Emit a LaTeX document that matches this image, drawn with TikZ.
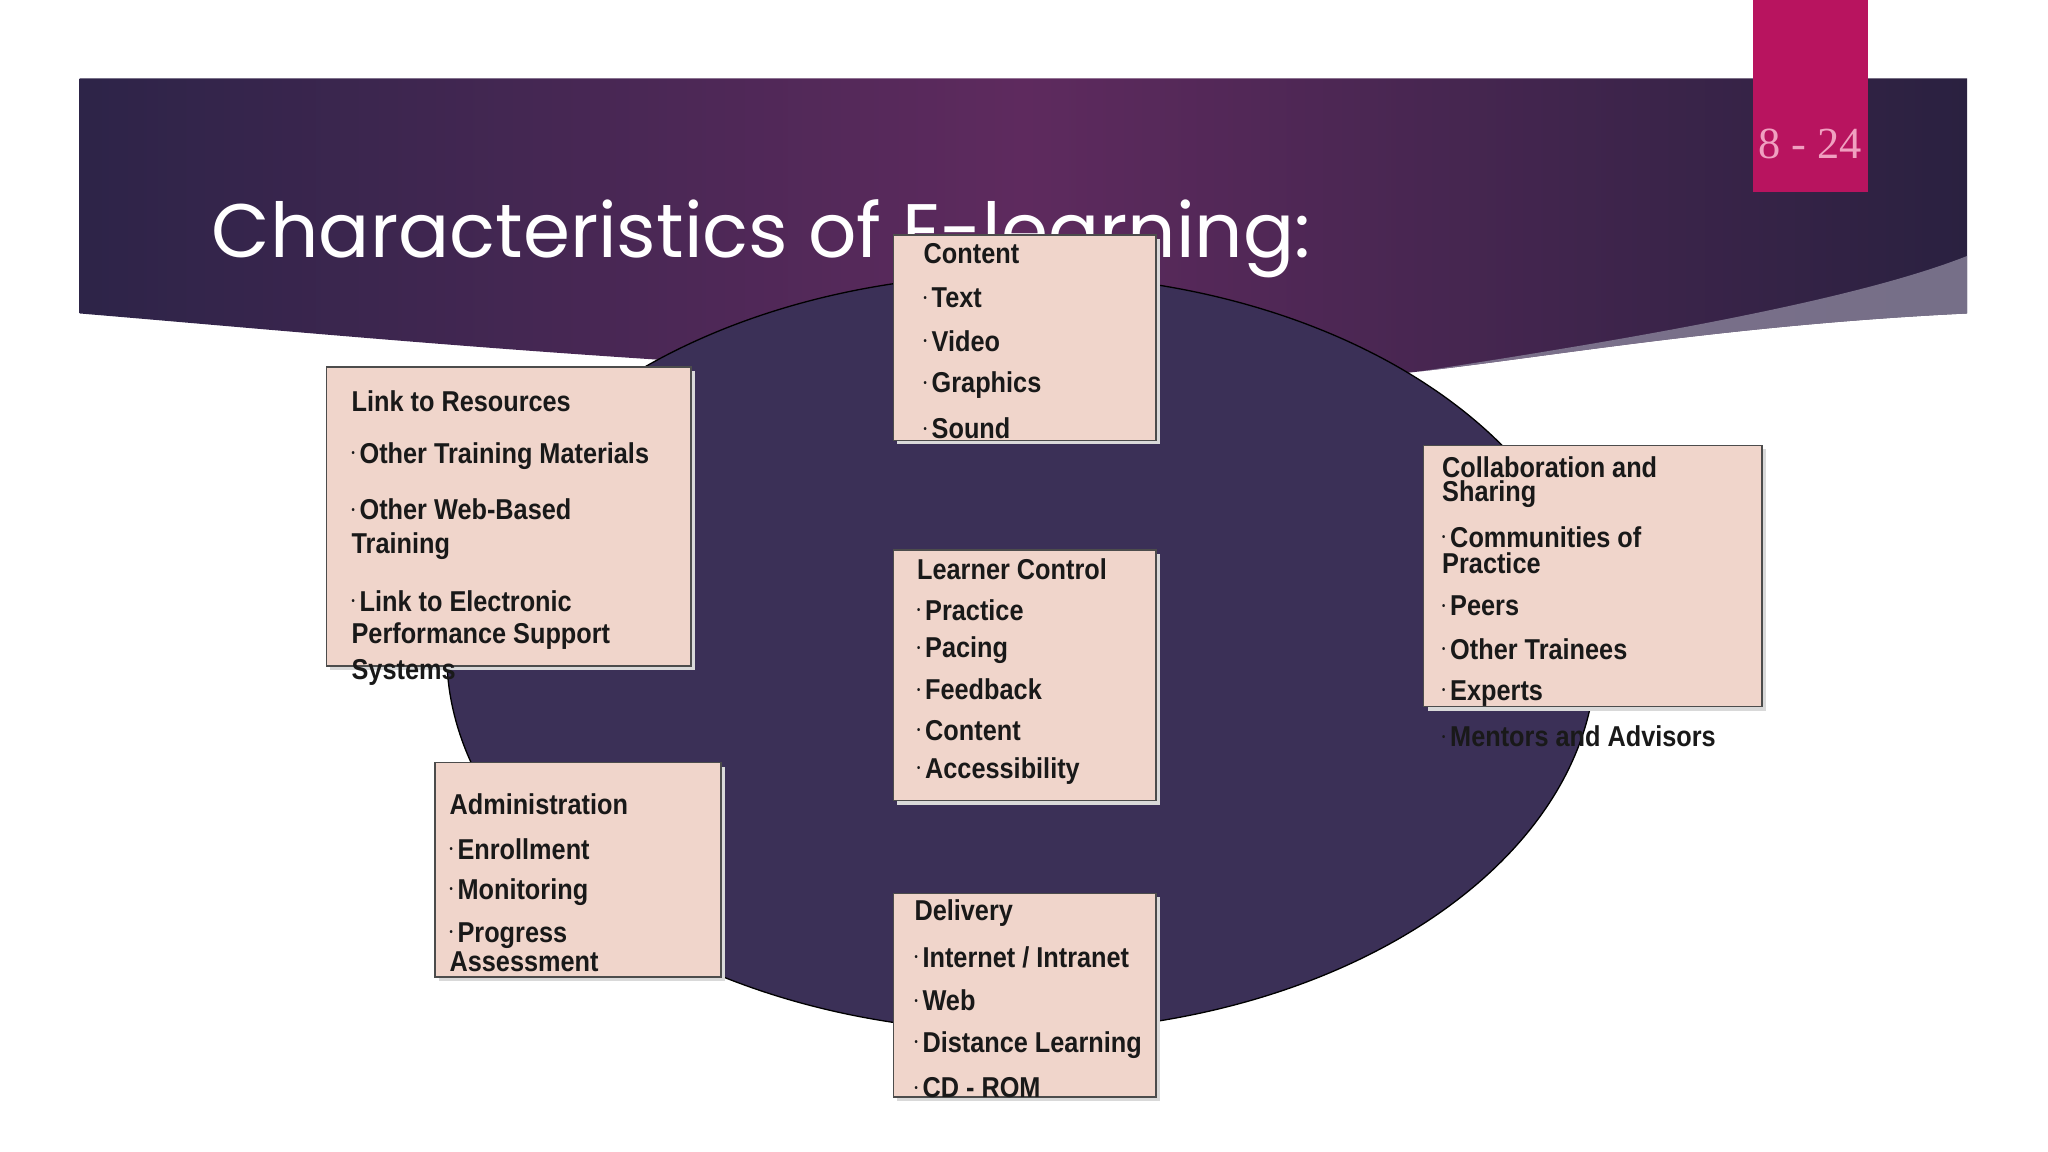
\documentclass[tikz,border=0pt]{standalone}
\usepackage{fontspec}
\setmainfont{Liberation Sans}
\newfontfamily\boxfont[FakeStretch=0.88]{Liberation Sans}
\newfontfamily\titlefont{Poppins}
\newfontfamily\numfont{Liberation Serif}
\definecolor{boxfill}{HTML}{F0D5CB}
\definecolor{ellfill}{HTML}{3B3057}
\definecolor{tab}{HTML}{B8145F}
\definecolor{tabtxt}{HTML}{F0A0C0}
\definecolor{bnA}{HTML}{2D2448}
\definecolor{bnB}{HTML}{5E2A5E}
\definecolor{bnC}{HTML}{2A2140}
\tikzset{
  cbox/.style={draw=black!70, line width=1pt, fill=boxfill},
  shadowbox/.style={fill=white!85!black},
  ln/.style={anchor=west, inner sep=0pt, font=\boxfont\bfseries\fontsize{22}{22}\selectfont, text=black!90},
}
\newcommand{\bul}{{\fontsize{8}{8}\selectfont\raisebox{5pt}{\textbullet}}\,}
\begin{document}
\begin{tikzpicture}[x=1pt,y=-1pt]
\useasboundingbox (0,0) rectangle (1568,882);
\fill[white] (0,0) rectangle (1568,882);
% banner
\begin{scope}
\clip (61,60) -- (1506,60) -- (1506,240) .. controls (1300,250) and (1150,280) .. (1050,288) .. controls (700,300) and (300,260) .. (61,240) -- cycle;
\shade[left color=bnA, right color=bnC, middle color=bnB] (61,60) rectangle (1506,300);
\fill[white!40!ellfill, opacity=0.8] (1050,290) .. controls (1250,260) and (1420,230) .. (1506,196) -- (1506,300) -- cycle;
\end{scope}
\node[anchor=base west, inner sep=0pt, text=white, font=\titlefont\fontsize{58}{58}\selectfont] (title) at (162,197) {Characteristics of E-learning:};
% tab
\fill[tab] (1342,0) rectangle (1430,147);
\node[text=tabtxt, font=\numfont\fontsize{34}{34}\selectfont] (num) at (1386,110) {8 - 24};
% ellipse
\draw[fill=ellfill, draw=black, line width=1pt] (782,500) ellipse [x radius=440, y radius=290];
% boxes
\foreach \n/\a/\b/\c/\d in {cont/684/180/885/337, link/250/281/529/510, lear/684/421/885/613, coll/1090/341/1349/541, admi/333/584/552/748, deli/684/684/885/840}{
  \fill[shadowbox] (\a+3,\b+3) rectangle (\c+3,\d+3);
  \draw[cbox] (\a,\b) rectangle (\c,\d);
  \coordinate (\n) at (\a,\b);
}
% Content
\node[ln] (c0) at (707,194) {Content};
\node[ln] (c1) at (707,228) {\bul Text};
\node[ln] (c2) at (707,261) {\bul Video};
\node[ln] (c3) at (707,295) {\bul Graphics};
\node[ln] (c4) at (707,328) {\bul Sound};
% Link
\node[ln] (l0) at (269,307) {Link to Resources};
\node[ln] (l1) at (269,349) {\bul Other Training Materials};
\node[ln] (l2) at (269,390) {\bul Other Web-Based};
\node[ln] (l3) at (269,418) {Training};
\node[ln] (l4) at (269,460) {\bul Link to Electronic};
\node[ln] (l5) at (269,487) {Performance Support};
\node[ln] (l6) at (269,515) {Systems};
% Learner
\node[ln] (r0) at (702,436) {Learner Control};
\node[ln] (r1) at (702,467) {\bul Practice};
\node[ln] (r2) at (702,498) {\bul Pacing};
\node[ln] (r3) at (702,528) {\bul Feedback};
\node[ln] (r4) at (702,559) {\bul Content};
\node[ln] (r5) at (702,590) {\bul Accessibility};
% Collaboration
\node[ln] (k0) at (1104,358) {Collaboration and};
\node[ln] (k1) at (1104,378) {Sharing};
\node[ln] (k2) at (1104,411) {\bul Communities of};
\node[ln] (k3) at (1104,431) {Practice};
\node[ln] (k4) at (1104,464) {\bul Peers};
\node[ln] (k5) at (1104,497) {\bul Other Trainees};
\node[ln] (k6) at (1104,531) {\bul Experts};
\node[ln] (k7) at (1104,564) {\bul Mentors and Advisors};
% Administration
\node[ln] (a0) at (344,616) {Administration};
\node[ln] (a1) at (344,650) {\bul Enrollment};
\node[ln] (a2) at (344,683) {\bul Monitoring};
\node[ln] (a3) at (344,716) {\bul Progress};
\node[ln] (a4) at (344,736) {Assessment};
% Delivery
\node[ln] (d0) at (700,699) {Delivery};
\node[ln] (d1) at (700,733) {\bul Internet / Intranet};
\node[ln] (d2) at (700,766) {\bul Web};
\node[ln] (d3) at (700,800) {\bul Distance Learning};
\node[ln] (d4) at (700,833) {\bul CD - ROM};
\end{tikzpicture}
\end{document}
